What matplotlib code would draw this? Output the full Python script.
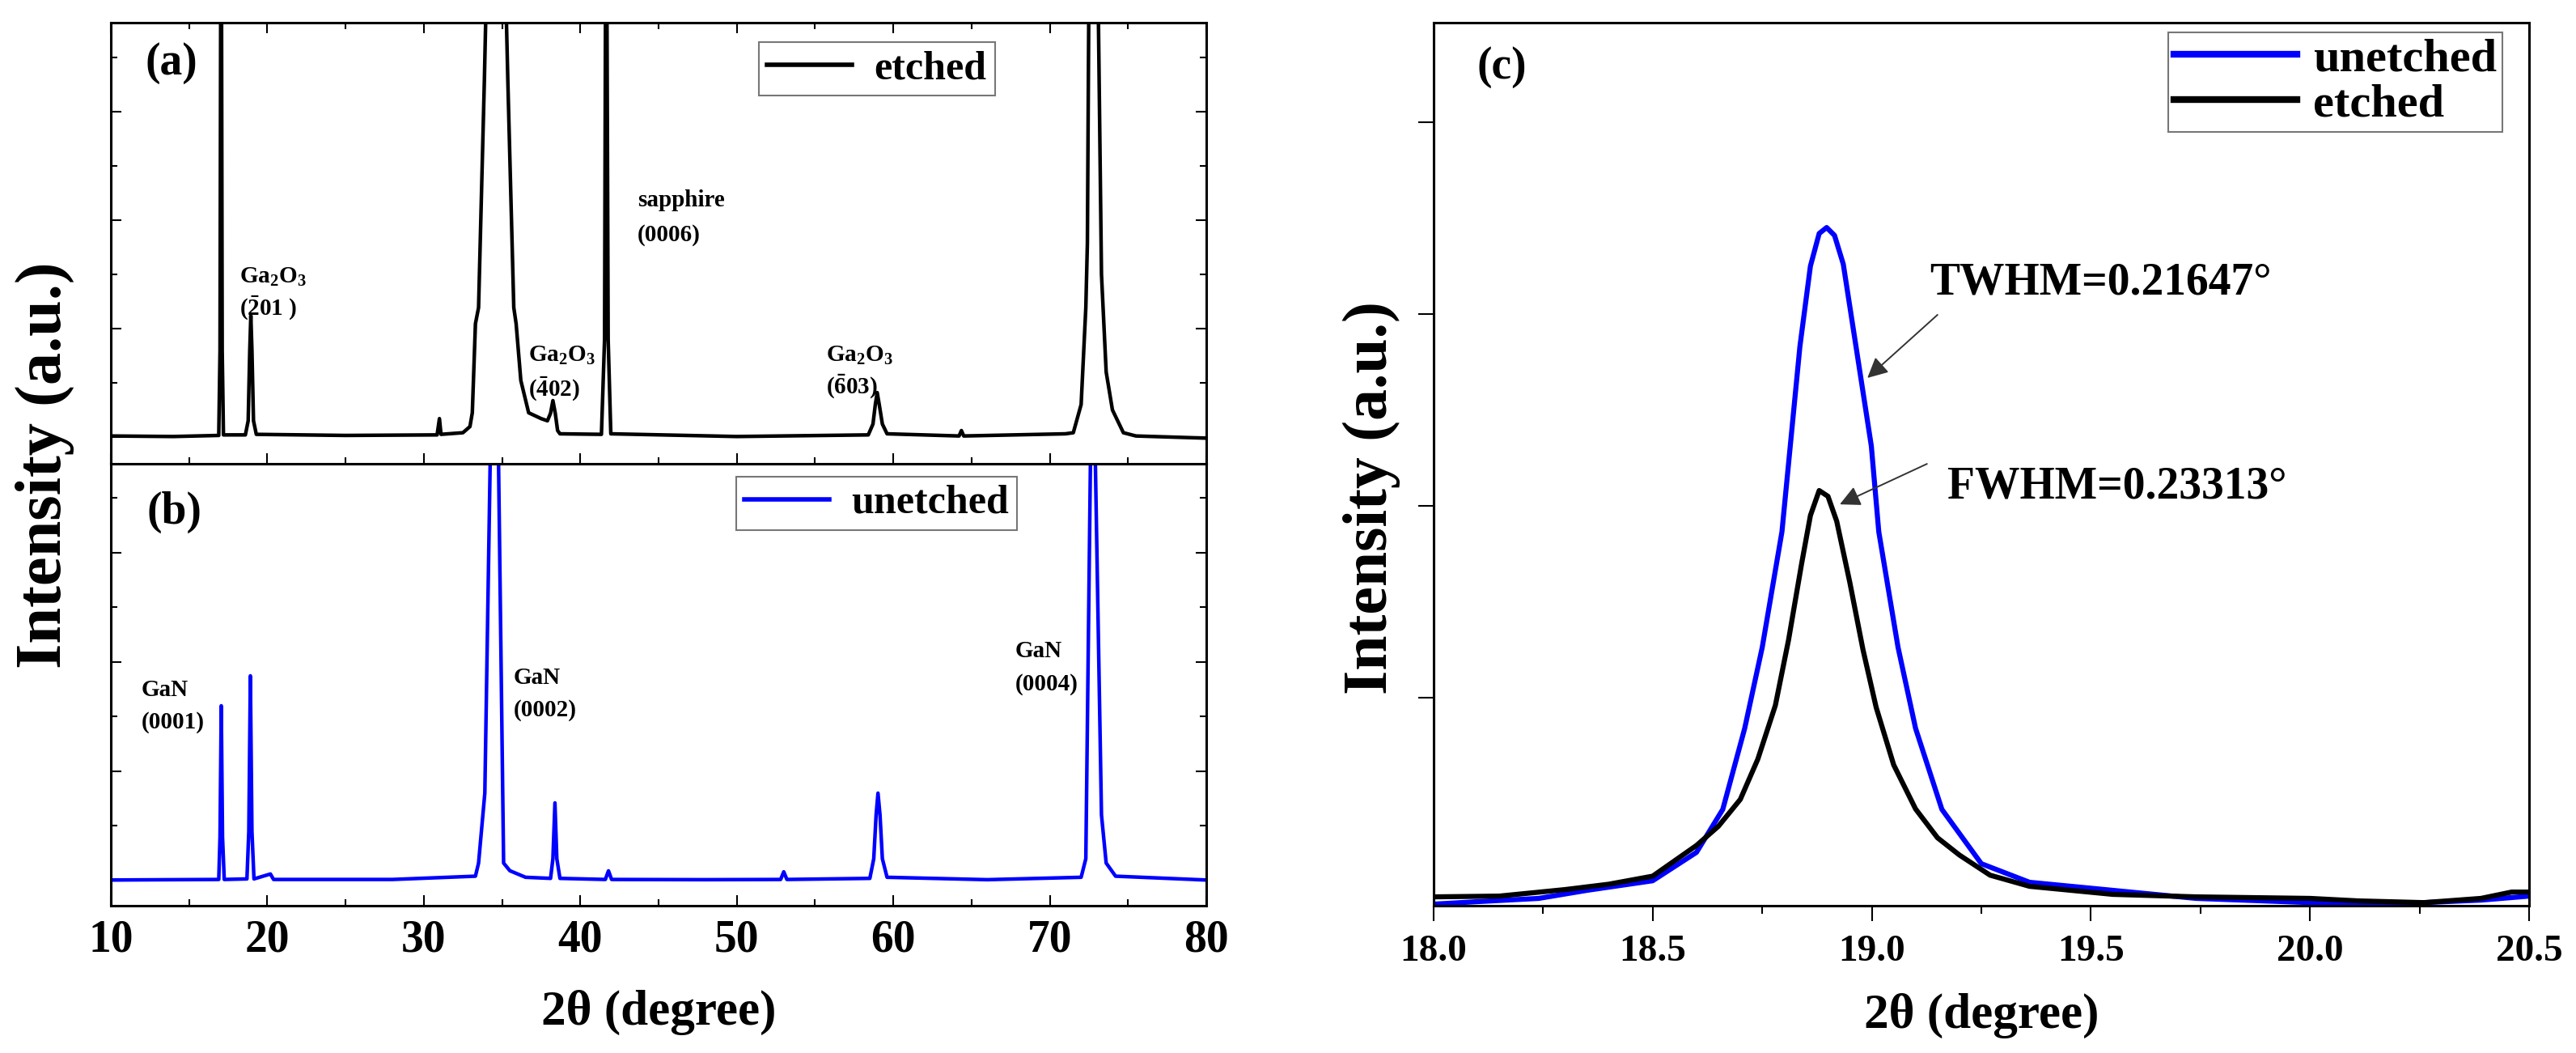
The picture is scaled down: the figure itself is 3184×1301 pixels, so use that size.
import matplotlib
matplotlib.use('Agg')
import matplotlib.pyplot as plt
from matplotlib.ticker import MultipleLocator, FixedLocator
from matplotlib.lines import Line2D

plt.rcParams['font.family'] = ['Liberation Serif', 'DejaVu Serif']
plt.rcParams['font.weight'] = 'bold'
plt.rcParams['mathtext.fontset'] = 'custom'
plt.rcParams['mathtext.rm'] = 'Liberation Serif:bold'
plt.rcParams['mathtext.bf'] = 'Liberation Serif:bold'
plt.rcParams['mathtext.default'] = 'bf'

# ----- data -----

# (a) etched, wide scan
etched_2theta = [10.0, 14.0, 16.9, 16.98, 17.05, 17.12, 17.2, 18.6, 18.78, 18.88, 18.95,
                 19.02, 19.12, 19.3, 25.0, 30.85, 31.0, 31.1, 32.5, 32.95, 33.1, 33.3,
                 33.5, 33.87, 34.6, 35.37, 35.75, 35.9, 36.2, 36.7, 37.5, 37.9, 38.1,
                 38.25, 38.4, 38.55, 38.7, 41.35, 41.55, 41.65, 41.78, 41.95, 50.0, 58.4,
                 58.7, 58.85, 58.97, 59.1, 59.3, 59.6, 64.2, 64.35, 64.5, 71.0, 71.5,
                 72.0, 72.3, 72.4, 72.5, 72.8, 73.1, 73.3, 73.6, 74.0, 74.7, 75.5, 80.0]
etched_int = [10, 5, 15, 800, 6000, 800, 20, 20, 150, 800, 1120,
              800, 150, 25, 15, 20, 170, 25, 40, 97, 224, 1045,
              1194, 3284, 8000, 3284, 1194, 1045, 522, 224, 170, 150, 220,
              336, 220, 60, 30, 25, 900, 6000, 900, 30, 5, 20,
              120, 300, 410, 300, 120, 30, 10, 60, 10, 30, 40,
              300, 1194, 1791, 4200, 8000, 3900, 1500, 600, 250, 40, 10, -10]

# (b) unetched, wide scan
unetched_2theta = [10.0, 14.0, 16.9, 16.98, 17.06, 17.14, 17.25, 18.7, 18.82, 18.92, 19.02,
                   19.15, 20.2, 20.4, 28.0, 33.3, 33.5, 33.9, 34.25, 34.5, 34.77, 35.1,
                   35.5, 36.0, 36.5, 38.1, 38.25, 38.38, 38.5, 38.7, 41.6, 41.8, 42.0,
                   48.0, 52.8, 53.0, 53.2, 58.5, 58.75, 58.9, 59.02, 59.15, 59.3, 59.6,
                   66.0, 72.0, 72.3, 72.6, 72.75, 72.9, 73.3, 73.6, 74.2, 80.0]
unetched_int = [5, 8, 10, 400, 1600, 400, 10, 15, 450, 1874, 450,
                15, 60, 10, 10, 40, 160, 800, 3900, 8000, 3900, 160,
                90, 60, 30, 20, 200, 711, 200, 20, 10, 89, 10,
                8, 10, 80, 10, 20, 200, 600, 800, 600, 200, 30,
                8, 30, 200, 3900, 8000, 3900, 600, 160, 40, 5]

# (c) region around the Ga2O3 (-201) peak
c_unetched_2theta = [18.00, 18.10, 18.24, 18.35, 18.50, 18.60, 18.66, 18.71, 18.75, 18.795,
                     18.814, 18.836, 18.86, 18.88, 18.897, 18.915, 18.935, 18.964, 18.999,
                     19.016, 19.06, 19.10, 19.16, 19.25, 19.36, 19.55, 19.74, 20.00, 20.26,
                     20.39, 20.50]
c_unetched_int = [-76, -63, -46, -4, 46, 194, 418, 840, 1262, 1865,
                  2312, 2831, 3250, 3420, 3451, 3410, 3260, 2831, 2312,
                  1865, 1262, 840, 418, 135, 38, -4, -46, -68, -68,
                  -55, -34]

c_etched_2theta = [18.00, 18.15, 18.30, 18.40, 18.50, 18.60, 18.65, 18.70, 18.74, 18.78,
                   18.81, 18.84, 18.86, 18.88, 18.90, 18.92, 18.95, 18.98, 19.01, 19.05,
                   19.10, 19.15, 19.20, 19.27, 19.36, 19.55, 19.74, 20.00, 20.11, 20.26,
                   20.39, 20.46, 20.50]
c_etched_int = [-38, -34, 0, 28, 70, 230, 330, 470, 680, 960,
                1300, 1700, 1950, 2080, 2050, 1920, 1600, 1250, 950, 650,
                420, 270, 180, 75, 17, -25, -38, -46, -59, -68,
                -46, -13, -13]

# ----- figure -----

fig = plt.figure(figsize=(31.84, 13.01), dpi=100)
ax_a = fig.add_axes([0.0430, 0.5596, 0.4253, 0.4189])
ax_b = fig.add_axes([0.0430, 0.1399, 0.4253, 0.4197])
ax_c = fig.add_axes([0.5565, 0.1399, 0.4253, 0.8386])

blue = '#0000ff'


def style_xrd(ax, top_ticks):
    ax.set_xlim(10, 80)
    ax.xaxis.set_major_locator(MultipleLocator(10))
    ax.xaxis.set_minor_locator(MultipleLocator(5))
    ax.yaxis.set_major_locator(MultipleLocator(1000))
    ax.yaxis.set_minor_locator(MultipleLocator(500))
    ax.tick_params(which='both', direction='in', top=top_ticks, right=True,
                   width=1.5, labelleft=False)
    ax.tick_params(which='major', length=9.5)
    ax.tick_params(which='minor', length=5.5)
    for sp in ax.spines.values():
        sp.set_linewidth(2.2)


# (a)
ax_a.plot(etched_2theta, etched_int, color='black', lw=3.2)
ax_a.set_ylim(-246, 3821)
style_xrd(ax_a, True)
ax_a.tick_params(labelbottom=False)

# (b)
ax_b.plot(unetched_2theta, unetched_int, color=blue, lw=3.2)
ax_b.set_ylim(-230, 3815)
style_xrd(ax_b, False)
ax_b.tick_params(axis='x', labelsize=40, pad=12)
ax_b.set_xlabel('2θ (degree)', fontsize=44, fontweight='bold')
ax_b.xaxis.set_label_coords(0.5, -0.19)
ax_b.xaxis.label.set_va('top')

lab = dict(fontsize=21, fontweight='bold', va='baseline', ha='left')
ax_a.text(18.2, 1418, 'Ga$_2$O$_3$', **lab)
ax_a.text(18.2, 1119, r'($\bar{2}$01 )', **lab)
ax_a.text(36.7, 694, 'Ga$_2$O$_3$', **lab)
ax_a.text(36.7, 373, r'($\bar{4}$02)', **lab)
ax_a.text(43.66, 2127, 'sapphire', **lab)
ax_a.text(43.66, 1806, '(0006)', **lab)
ax_a.text(55.7, 694, 'Ga$_2$O$_3$', **lab)
ax_a.text(55.7, 396, r'($\bar{6}$03)', **lab)

ax_b.text(11.96, 1689, 'GaN', **lab)
ax_b.text(11.96, 1393, '(0001)', **lab)
ax_b.text(35.75, 1800, 'GaN', **lab)
ax_b.text(35.75, 1504, '(0002)', **lab)
ax_b.text(67.8, 2044, 'GaN', **lab)
ax_b.text(67.8, 1741, '(0004)', **lab)

leg_kw = dict(frameon=True, fancybox=False, borderaxespad=0, edgecolor='#555555',
              bbox_transform=fig.transFigure, loc='upper left',
              prop={'family': 'Liberation Serif', 'weight': 'bold', 'size': 36},
              handlelength=2.1, handletextpad=0.55, borderpad=0.2)
leg = ax_a.legend([Line2D([], [], color='black', lw=4)], ['etched'],
                  bbox_to_anchor=(938 / 3184, 1 - 52 / 1301), **leg_kw)
leg.get_frame().set_linewidth(1.5)
leg = ax_b.legend([Line2D([], [], color=blue, lw=4)], ['unetched'],
                  bbox_to_anchor=(910 / 3184, 1 - 589 / 1301), **leg_kw)
leg.get_frame().set_linewidth(1.5)

# (c)
ax_c.plot(c_unetched_2theta, c_unetched_int, color=blue, lw=4.5, label='unetched')
ax_c.plot(c_etched_2theta, c_etched_int, color='black', lw=4.5, label='etched')
ax_c.set_xlim(18.0, 20.5)
ax_c.set_ylim(-84, 4519)
ax_c.xaxis.set_major_locator(MultipleLocator(0.5))
ax_c.xaxis.set_minor_locator(MultipleLocator(0.25))
ax_c.yaxis.set_major_locator(FixedLocator([1000, 2000, 3000, 4000]))
ax_c.xaxis.set_major_formatter(plt.FormatStrFormatter('%.1f'))
ax_c.tick_params(which='both', direction='out', width=1.5, labelleft=False)
ax_c.tick_params(which='major', length=14)
ax_c.tick_params(which='minor', length=7)
ax_c.tick_params(axis='x', labelsize=34, pad=12)
for sp in ax_c.spines.values():
    sp.set_linewidth(2.2)
ax_c.set_xlabel('2θ (degree)', fontsize=44, fontweight='bold')
ax_c.xaxis.set_label_coords(0.5, -0.099)
ax_c.xaxis.label.set_va('top')

leg_kw_c = dict(leg_kw)
leg_kw_c['prop'] = {'family': 'Liberation Serif', 'weight': 'bold', 'size': 42}
leg_kw_c['handlelength'] = 2.6
leg_kw_c['handletextpad'] = 0.35
leg_kw_c['borderpad'] = 0.12
leg_kw_c['labelspacing'] = 0.05
leg = ax_c.legend(bbox_to_anchor=(2680 / 3184, 1 - 40 / 1301), **leg_kw_c)
leg.get_frame().set_linewidth(1.5)
for ln in leg.get_lines():
    ln.set_linewidth(6)

arrow = dict(arrowstyle='-|>', lw=1.4, color='#333333', mutation_scale=38,
             shrinkA=0, shrinkB=0)
ax_c.annotate('', xy=(18.99, 2667), xytext=(19.150, 2996), arrowprops=arrow)
ax_c.annotate('', xy=(18.927, 2008), xytext=(19.126, 2219), arrowprops=arrow)
ax_c.text(19.132, 3105, 'TWHM=0.21647°', fontsize=40, fontweight='bold',
          va='baseline', ha='left')
ax_c.text(19.172, 2040, 'FWHM=0.23313°', fontsize=40, fontweight='bold',
          va='baseline', ha='left')

# panel letters and y labels
fig.text(180 / 3184, 1 - 52 / 1301, '(a)', fontsize=40, fontweight='bold', va='top')
fig.text(182 / 3184, 1 - 607 / 1301, '(b)', fontsize=40, fontweight='bold', va='top')
fig.text(1825 / 3184, 1 - 57 / 1301, '(c)', fontsize=40, fontweight='bold', va='top')

fig.text(55 / 3184, 1 - 575 / 1301, 'Intensity (a.u.)', fontsize=58, fontweight='bold',
         rotation=90, ha='center', va='center')
fig.text(1695 / 3184, 1 - 615 / 1301, 'Intensity (a.u.)', fontsize=56, fontweight='bold',
         rotation=90, ha='center', va='center')

fig.savefig('out.png', dpi=100)
